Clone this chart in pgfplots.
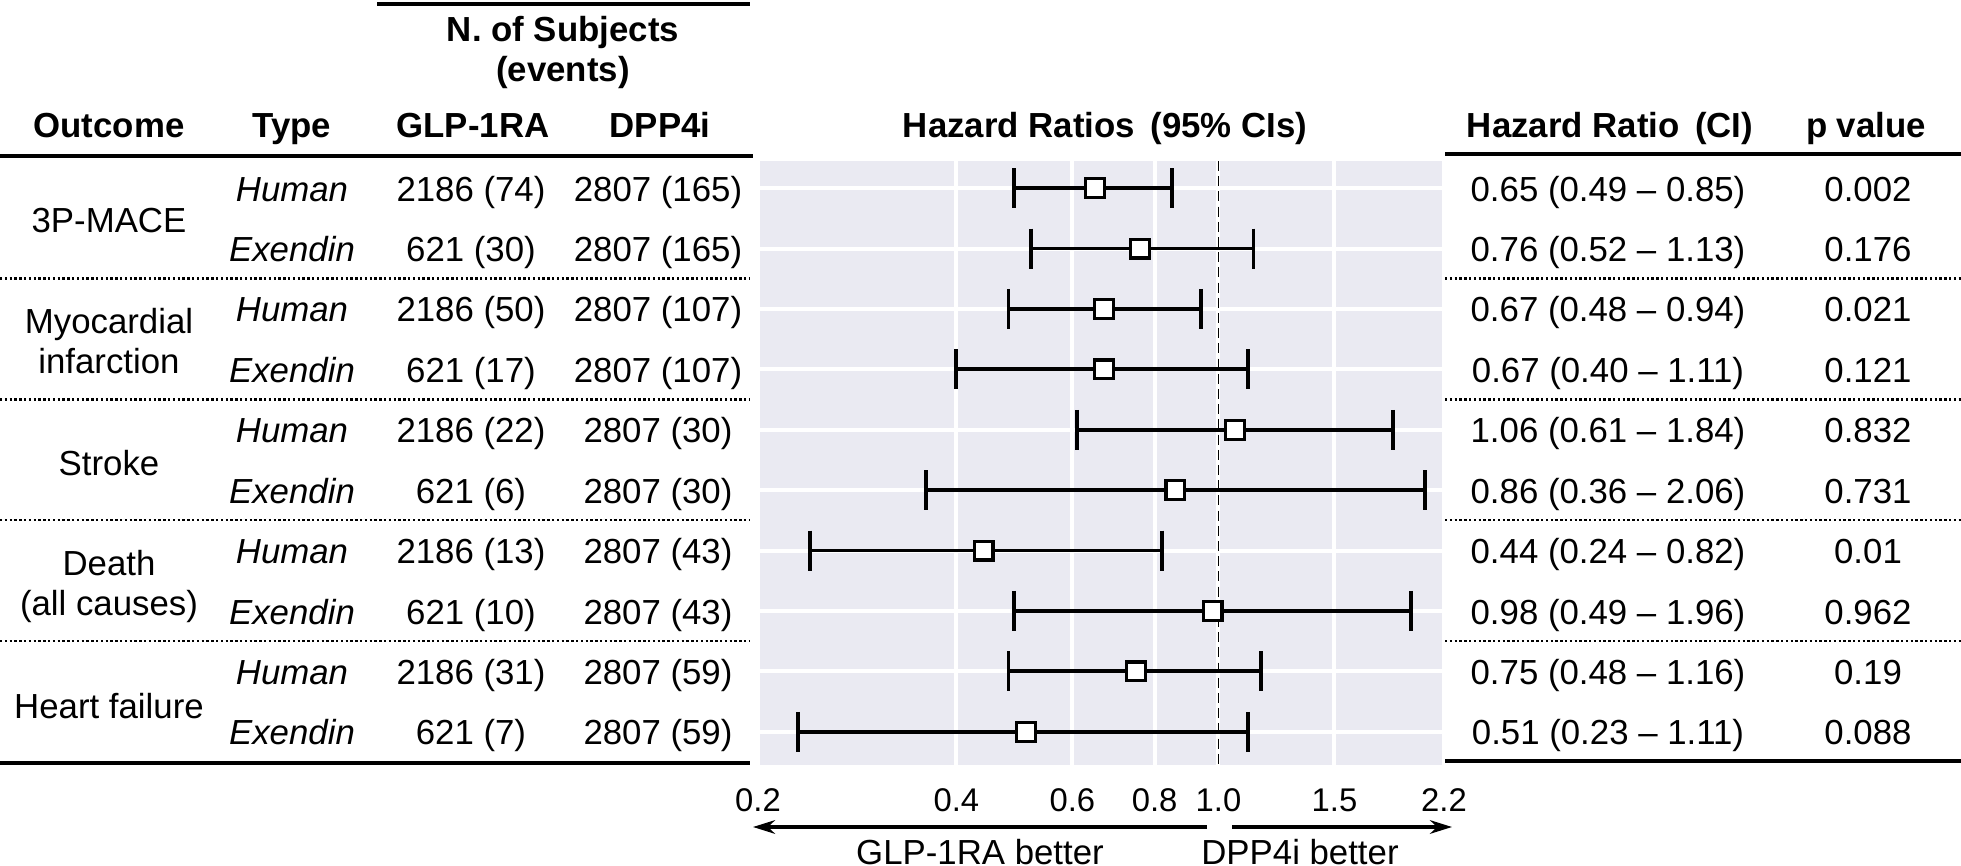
\documentclass[border=0pt]{standalone}
\usepackage{pgfplots}
\pgfplotsset{compat=1.18}
\usepackage{pgfplotstable}
\usepackage{fontspec}
\setmainfont{Liberation Sans}
\usetikzlibrary{arrows.meta}
\definecolor{bggray}{HTML}{EAEAF2}

\pgfplotstableread{
row hr lo hi
1 0.65 0.49 0.85
2 0.76 0.52 1.13
3 0.67 0.48 0.94
4 0.67 0.40 1.11
5 1.06 0.61 1.84
6 0.86 0.36 2.06
7 0.44 0.24 0.82
8 0.98 0.49 1.96
9 0.75 0.48 1.16
10 0.51 0.23 1.11
}\hrdata

\pgfplotstableread{
x y
0.49 1
0.85 1
nan 1
0.52 2
1.13 2
nan 2
0.48 3
0.94 3
nan 3
0.40 4
1.11 4
nan 4
0.61 5
1.84 5
nan 5
0.36 6
2.06 6
nan 6
0.24 7
0.82 7
nan 7
0.49 8
1.96 8
nan 8
0.48 9
1.16 9
nan 9
0.23 10
1.11 10
}\cidata

\newcommand\tabrow[6]{%
  \node[anchor=base] at (292,{188.2+60.4*(#1-1)+13}) {\textit{#2}};
  \node[anchor=base] at (471,{188.2+60.4*(#1-1)+13}) {#3};
  \node[anchor=base] at (658,{188.2+60.4*(#1-1)+13}) {#4};
  \node[anchor=base] at (1608,{188.2+60.4*(#1-1)+13}) {#5};
  \node[anchor=base] at (1868,{188.2+60.4*(#1-1)+13}) {#6};
}

\begin{document}
\begin{tikzpicture}[x=0.25pt,y=-0.25pt, font=\fontsize{8.7}{10.4}\selectfont]
\useasboundingbox (0,0) rectangle (1961,866);
\begin{axis}[
  at={(189.5pt,-191.25pt)}, anchor=south west,
  scale only axis, width=171.5pt, height=151pt,
  xmode=log, xmin=0.2, xmax=2.2,
  ymin=0.55, ymax=10.55, y dir=reverse,
  axis background/.style={fill=bggray},
  axis line style={draw=none},
  major tick length=0pt,
  xtick={0.2,0.4,0.6,0.8,1,1.5,2.2},
  xticklabels={0.2,0.4,0.6,0.8,1.0,1.5,2.2},
  ytick={1,2,3,4,5,6,7,8,9,10}, yticklabels={},
  xmajorgrids, ymajorgrids,
  grid style={white, line width=1pt},
  xticklabel style={font=\fontsize{8.2}{9.8}\selectfont, anchor=center, yshift=-8.75pt},
  /pgf/number format/assume math mode=true,
  clip=false,
]
\addplot[black, line width=0.45pt, dash pattern=on 2.5pt off 1.3pt] coordinates {(1,0.55) (1,10.55)};
\addplot[black, line width=0.95pt, mark=|, mark size=5pt, unbounded coords=jump, mark options={solid}] table[x=x,y=y] {\cidata};
\addplot[only marks, mark=square*, mark size=2.35pt, mark options={fill=white, draw=black, line width=0.8pt}] table[x=hr,y=row] {\hrdata};
\end{axis}

% headers
\node[anchor=base] at (563,42) {\textbf{N. of Subjects}};
\node[anchor=base] at (563,82) {\textbf{(events)}};
\node[anchor=base] at (109,138) {\textbf{Outcome}};
\node[anchor=base] at (292,138) {\textbf{Type}};
\node[anchor=base] at (473,138) {\textbf{GLP-1RA}};
\node[anchor=base] at (660,138) {\textbf{DPP4i}};
\node[anchor=base] at (1105,138) {\textbf{Hazard Ratios\ \,(95\% CIs)}};
\node[anchor=base] at (1610,138) {\textbf{Hazard Ratio\ \,(CI)}};
\node[anchor=base] at (1866,138) {\textbf{p value}};

% rules
\draw[line width=1pt] (377,4) -- (750,4);
\draw[line width=1pt] (0,156) -- (753,156);
\draw[line width=1pt] (1445,154) -- (1961,154);
\draw[line width=1pt] (0,763) -- (750,763);
\draw[line width=1pt] (1445,761) -- (1961,761);
\foreach \yy in {278.6,399.4,520.2,641} {
  \draw[line width=0.6pt, dash pattern=on 0.6pt off 0.6pt] (0,\yy) -- (750,\yy);
  \draw[line width=0.6pt, dash pattern=on 0.6pt off 0.6pt] (1445,\yy) -- (1961,\yy);
}

% outcome labels
\node[anchor=base] at (109,{218.4+14}) {3P-MACE};
\node[anchor=base] at (109,{339.2-6}) {Myocardial};
\node[anchor=base] at (109,{339.2+34}) {infarction};
\node[anchor=base] at (109,{460+15}) {Stroke};
\node[anchor=base] at (109,{580.6-5}) {Death};
\node[anchor=base] at (109,{580.6+35}) {(all causes)};
\node[anchor=base] at (109,{701.4+17}) {Heart failure};

% table rows
\tabrow{1}{Human}{2186 (74)}{2807 (165)}{0.65 (0.49 -- 0.85)}{0.002}
\tabrow{2}{Exendin}{621 (30)}{2807 (165)}{0.76 (0.52 -- 1.13)}{0.176}
\tabrow{3}{Human}{2186 (50)}{2807 (107)}{0.67 (0.48 -- 0.94)}{0.021}
\tabrow{4}{Exendin}{621 (17)}{2807 (107)}{0.67 (0.40 -- 1.11)}{0.121}
\tabrow{5}{Human}{2186 (22)}{2807 (30)}{1.06 (0.61 -- 1.84)}{0.832}
\tabrow{6}{Exendin}{621 (6)}{2807 (30)}{0.86 (0.36 -- 2.06)}{0.731}
\tabrow{7}{Human}{2186 (13)}{2807 (43)}{0.44 (0.24 -- 0.82)}{0.01}
\tabrow{8}{Exendin}{621 (10)}{2807 (43)}{0.98 (0.49 -- 1.96)}{0.962}
\tabrow{9}{Human}{2186 (31)}{2807 (59)}{0.75 (0.48 -- 1.16)}{0.19}
\tabrow{10}{Exendin}{621 (7)}{2807 (59)}{0.51 (0.23 -- 1.11)}{0.088}

% arrows
\draw[line width=0.875pt, -{Stealth[length=5.5pt,width=3.4pt]}] (1207,827) -- (753,827);
\draw[line width=0.875pt, -{Stealth[length=5.5pt,width=3.4pt]}] (1232,827) -- (1452,827);
\node[anchor=base] at (980,864) {GLP-1RA better};
\node[anchor=base] at (1300,864) {DPP4i better};
\end{tikzpicture}
\end{document}
